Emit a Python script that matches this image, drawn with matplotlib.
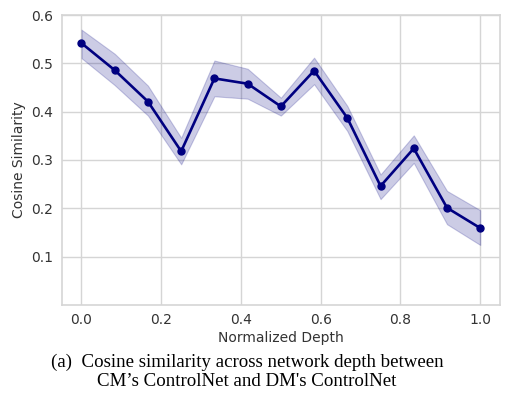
import numpy as np
import matplotlib.pyplot as plt

# data
depth = np.linspace(0, 1, 13)
cos_mean = [0.542, 0.486, 0.421, 0.318, 0.469, 0.458, 0.411, 0.485, 0.387, 0.246, 0.324, 0.201, 0.159]
cos_upper = [0.570, 0.520, 0.454, 0.346, 0.506, 0.489, 0.429, 0.512, 0.412, 0.270, 0.351, 0.236, 0.196]
cos_lower = [0.511, 0.455, 0.392, 0.291, 0.432, 0.427, 0.392, 0.457, 0.360, 0.219, 0.294, 0.167, 0.124]
yticks = [0.1, 0.2, 0.3, 0.4, 0.5, 0.6]
caption = "(a)  Cosine similarity across network depth between\nCM\u2019s ControlNet and DM's ControlNet"

plt.rcParams['font.family'] = 'DejaVu Sans'
fig = plt.figure(figsize=(5.13, 3.99), dpi=100)
ax = fig.add_axes([0.120, 0.236, 0.855, 0.726])

ax.fill_between(depth, cos_lower, cos_upper, color='navy', alpha=0.2, linewidth=0.8)
ax.plot(depth, cos_mean, color='navy', linewidth=1.9, marker='o', markersize=5)

ax.set_xlim(-0.05, 1.05)
ax.set_ylim(0.0, 0.6)
ax.set_yticks(yticks)
ax.set_xticks([0.0, 0.2, 0.4, 0.6, 0.8, 1.0])
ax.grid(True, color='#d5d5d5', linewidth=1)
ax.set_axisbelow(True)
for s in ax.spines.values():
    s.set_color('#d5d5d5')
    s.set_linewidth(1.2)
ax.tick_params(length=0, labelsize=10, colors='#333333', pad=6)
ax.set_xlabel('Normalized Depth', fontsize=10, color='#333333', labelpad=3)
ax.set_ylabel('Cosine Similarity', fontsize=10, color='#333333', labelpad=4)

fig.text(247 / 513, 1 - 372 / 399, caption, family='Liberation Serif', fontsize=13.6,
         ha='center', va='center', multialignment='center', linespacing=1.2)

fig.savefig('out.png', dpi=100)
